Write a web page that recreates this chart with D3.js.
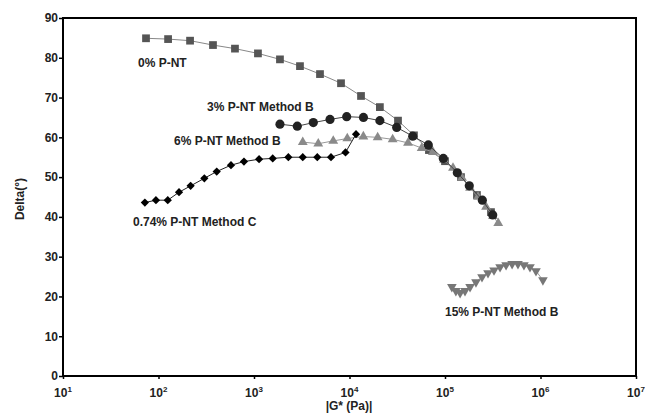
<!DOCTYPE html>
<html><head><meta charset="utf-8">
<script src="https://cdn.jsdelivr.net/npm/d3@7"></script>
<style>
body{margin:0;background:#fff;}
text{font-family:"Liberation Sans",Arial,sans-serif;font-weight:bold;}
</style></head>
<body><svg id="c" width="645" height="416"></svg>
<script>
// ---- data ----
const yTicks = [0,10,20,30,40,50,60,70,80,90];
const xTickExps = [1,2,3,4,5,6,7];

const sqX = [74,126,214,372,632,1100,1870,3030,4910,8150,13200,20800,32200,47300,67900,100000,147000,216000,303000];
const sqY = [84.9,84.7,84.3,83.2,82.3,81.1,79.6,77.9,75.9,73.6,70.4,67.6,64.2,60.5,56.8,54.0,50.0,45.5,41.2];

const ciX = [1870,2840,4180,6250,9350,14000,20800,31200,45900,66900,96000,134500,179600,246000,316000];
const ciY = [63.3,62.8,63.7,64.5,65.2,65.0,64.2,62.5,60.3,58.1,54.7,51.1,47.8,44.2,40.5];

const trX = [3240,4710,6760,9480,13960,19720,28300,41000,57000,74800,97700,121300,150700,182800,221800,269000,318000,361000];
const trY = [58.8,58.4,59.1,59.7,60.2,60.0,59.5,58.6,57.3,56.3,54.3,52.3,49.8,47.3,45.0,42.5,40.2,38.4];

const diX = [72,94,125,164,217,302,407,574,785,1130,1570,2290,3240,4600,6400,9080,11700];
const diY = [43.6,44.2,44.2,46.2,47.8,49.7,51.4,53.0,53.9,54.5,54.7,55.0,55.0,55.0,55.0,56.2,60.8];

const tdX = [118000,130000,144000,162000,183000,211000,244000,282000,326000,377000,436000,504000,581000,671000,776000,897000,1060000];
const tdY = [22.4,21.4,20.9,21.4,22.4,23.6,24.9,25.9,26.6,27.4,27.9,28.2,28.2,27.9,27.4,26.4,24.1];

const labels = ["0% P-NT","3% P-NT Method B","6% P-NT Method B","0.74% P-NT Method C","15% P-NT Method B"];

// ---- chart ----
const svg = d3.select("#c");
const L=63, R=636, T=18, B=376;
const x = d3.scaleLog().domain([10,1e7]).range([L,R]);
const y = d3.scaleLinear().domain([0,90]).range([B,T]);

const series = [
  {xs:sqX, ys:sqY, sym:d3.symbolSquare, size:60, fill:"#555", line:"#888"},
  {xs:trX, ys:trY, sym:d3.symbolTriangle, size:42, fill:"#8a8a8a", line:"#999"},
  {xs:ciX, ys:ciY, sym:d3.symbolCircle, size:66, fill:"#222", line:"#444"},
  {xs:diX, ys:diY, sym:d3.symbolSquare, size:34, fill:"#000", line:"#222", rot:45},
  {xs:tdX, ys:tdY, sym:d3.symbolTriangle, size:40, fill:"#777", line:"#999", rot:180}
];

series.forEach(s=>{
  const pts = s.xs.map((v,i)=>[v,s.ys[i]]);
  svg.append("path").datum(pts)
    .attr("fill","none").attr("stroke",s.line).attr("stroke-width",1)
    .attr("d",d3.line().x(d=>x(d[0])).y(d=>y(d[1])));
  svg.append("g").selectAll("path").data(pts).join("path")
    .attr("transform",d=>`translate(${x(d[0])},${y(d[1])})${s.rot?` rotate(${s.rot})`:""}`)
    .attr("d",d3.symbol().type(s.sym).size(s.size))
    .attr("fill",s.fill);
});

// frame
svg.append("rect").attr("x",L).attr("y",T).attr("width",R-L).attr("height",B-T)
  .attr("fill","none").attr("stroke","#000").attr("stroke-width",2);

// y axis
const ya = svg.append("g").attr("transform",`translate(${L},0)`)
  .call(d3.axisLeft(y).tickValues(yTicks).tickSize(4).tickPadding(1));
ya.select(".domain").remove();
ya.selectAll("line").attr("stroke","#000").attr("stroke-width",1.5);
ya.selectAll("text").attr("font-size",12).attr("fill","#222").attr("font-family","Liberation Sans, Arial, sans-serif");

// x axis
const xa = svg.append("g").attr("transform",`translate(0,${B})`)
  .call(d3.axisBottom(x).tickValues(xTickExps.map(e=>Math.pow(10,e))).tickSize(3).tickFormat(""));
xa.select(".domain").remove();
xa.selectAll("line").attr("stroke","#000").attr("stroke-width",1.5);
xTickExps.forEach(e=>{
  const t = svg.append("text").attr("x",x(Math.pow(10,e))).attr("y",397)
    .attr("text-anchor","middle").attr("font-size",12).attr("fill","#222");
  t.append("tspan").text("10");
  t.append("tspan").attr("dy",-5).attr("font-size",8).text(e);
});

// axis titles
svg.append("text").attr("x",349).attr("y",410).attr("text-anchor","middle")
  .attr("font-size",12).attr("fill","#222").text("|G* (Pa)|");
svg.append("text").attr("transform","translate(24,199) rotate(-90)").attr("text-anchor","middle")
  .attr("font-size",12).attr("fill","#222").text("Delta(°)");

// series labels
const lp = [[138,67],[207,111],[174,145],[133,226],[445,316]];
labels.forEach((t,i)=>{
  svg.append("text").attr("x",lp[i][0]).attr("y",lp[i][1])
    .attr("font-size",12).attr("fill","#222").text(t);
});
</script></body></html>
